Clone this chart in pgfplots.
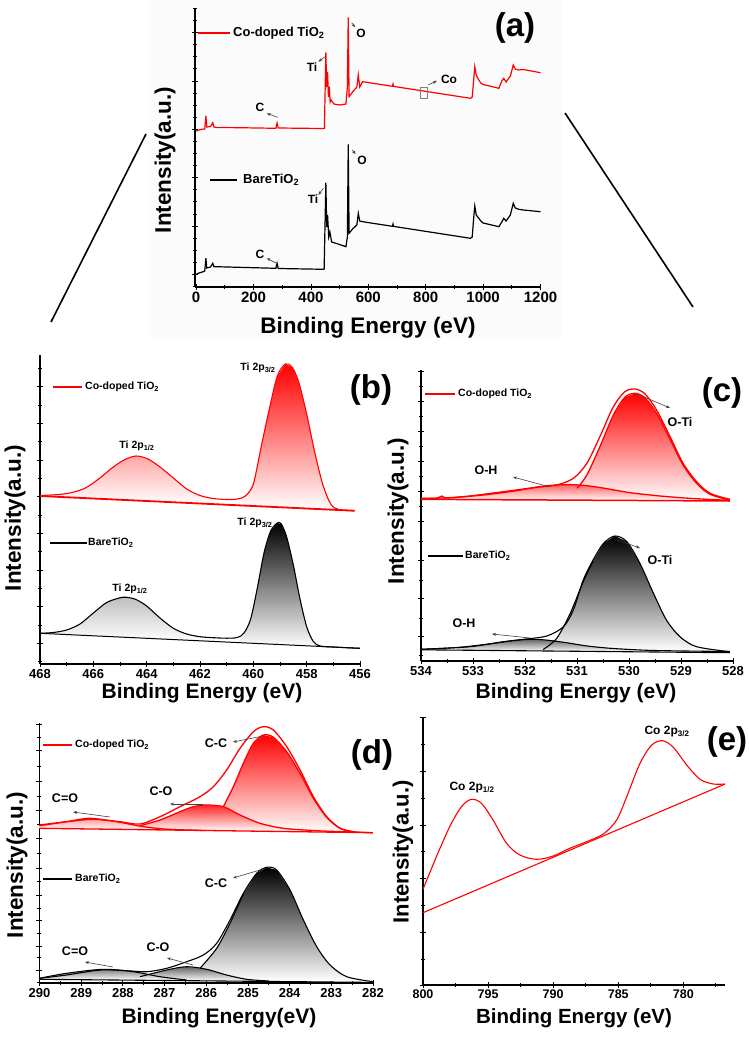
\documentclass[border=0pt]{standalone}
\usepackage{fontspec}
\setmainfont{Liberation Sans}
\usepackage{pgfplots}
\pgfplotsset{compat=1.18}
\usetikzlibrary{arrows.meta}
\newcommand{\fs}[1]{\fontsize{#1}{#1}\selectfont}
\definecolor{pure}{RGB}{255,0,0}
\pgfplotsset{
 xps/.style={
  scale only axis, anchor=north west,
  axis x line*=bottom, axis y line*=left,
  axis line style={line width=1.1pt},
  tick style={black, line width=0.8pt},
  tick align=center,
  major tick length=6pt, minor tick length=4pt,
  yticklabels={},
  /pgf/number format/assume math mode=true,
  /pgf/number format/1000 sep={},
  xticklabel style={font=\bfseries\fs{13}, inner sep=2pt},
 },
 fillp/.style={draw=none, bottom color=white, top color=#1, forget plot},
}
\tikzset{ann/.style={-{Stealth[length=4pt,width=3pt]}, line width=0.6pt, black!75},
 lab/.style={font=\bfseries\fs{#1}, inner sep=0pt}}
\begin{document}
\begin{tikzpicture}
\useasboundingbox (0,0) rectangle (749pt,-1038pt);
\begin{scope}[x=1pt,y=-1pt]
\fill[black!1.5] (148,0) rectangle (563,337);
\draw[line width=1.6pt] (51,322) -- (146,134);
\draw[line width=1.6pt] (565,113) -- (693,307);
\end{scope}

% ---------------- (a)
\begin{axis}[xps, at={(195pt,-8pt)}, width=345.5pt, height=279pt,
 xmin=-4, xmax=1200, ymin=0, ymax=279,
 xtick={0,200,...,1200}, minor x tick num=1,
 ytick={12.7,61,109.3,157.7,206,254.3},
 minor ytick={0.6,24.8,36.9,48.9,73.1,85.2,97.2,121.4,133.5,145.6,169.8,181.8,193.9,218.1,230.2,242.2,266.4,278.5},
 xticklabel style={font=\bfseries\fs{15}}]
\addplot[pure, line width=1.2pt] coordinates {(0,156) (15,157.5) (30,158) (34,171) (37,160) (50,160.5) (58,164.3) (62,160) (70,159.5) (150,159.3) (278,158.7) (282,164) (286,159) (440,158.5) (447,158.7) (452,234.7) (455,200) (458,215) (461,190) (464,200.3) (467,185) (470,187) (480,183) (500,182) (522,183) (527,200) (530,269.7) (533,190.3) (545,195) (560,200) (565,212) (570,200) (580,205.3) (684,200.7) (686,203) (688,200.6) (956,188.7) (962,190) (968,210) (971,220.3) (976,212) (985,207) (992,204) (1000,202.5) (1055,198.7) (1065,206) (1072,208.7) (1080,205) (1095,211) (1105,222) (1112,218) (1124,217) (1140,217.5) (1200,214.3)};
\addplot[black, line width=1.2pt] coordinates {(0,12.7) (10,14) (25,15.3) (30,16) (34,28.7) (37,19) (50,20) (58,23.7) (62,20.3) (70,20.3) (278,18.7) (282,23.7) (286,18.5) (446,17.7) (452,104.3) (455,60) (458,72) (462,50) (466,55) (472,45) (487,43.7) (522,40.3) (527,50) (530,142.7) (533,53.7) (545,58) (560,62) (565,73.7) (570,66) (580,65.3) (684,60.7) (686,63) (688,60.6) (956,48.7) (962,50) (968,72) (971,81) (976,72) (985,68.7) (992,66) (1000,64) (1055,60.3) (1065,65) (1072,68.7) (1080,66) (1095,72) (1105,83.7) (1112,79) (1124,77.7) (1140,77) (1200,75.3)};
\end{axis}

% ---------------- (b)
\begin{axis}[xps, at={(40pt,-355pt)}, width=320pt, height=309pt, x dir=reverse,
 xmin=456, xmax=468, ymin=0, ymax=309,
 xtick={456,458,...,468}, minor x tick num=1,
 ytick={20.7,57.3,94,130.7,167.3,204,240.6,277.3},
 minor ytick={2.4,39,75.7,112.3,149,185.6,222.3,259,295.6}]
\addplot[fillp=pure!35] coordinates {(467.5,167.4) (467.3,169.5) (466.8,171.5) (466.3,176) (465.8,185) (465.3,196) (464.85,204) (464.4,208) (463.95,205) (463.5,197) (463.0,186) (462.5,175) (462.0,168.5) (461.5,165.5) (461.5,159.9)} -- cycle;
\addplot[fillp=pure] coordinates {(460.4,158.5) (460.3,168) (460.0,180) (459.7,218) (459.4,255) (459.1,288) (458.8,300) (458.55,297) (458.3,282) (458.0,250) (457.7,212) (457.4,180) (457.1,160) (456.8,154.5)} -- cycle;
\addplot[fillp=black!25] coordinates {(467.5,30.1) (467.0,34) (466.5,40) (466.0,51) (465.5,61.5) (465.0,66.2) (464.75,66.7) (464.4,64.5) (464.0,58) (463.5,46) (463.0,35.7) (462.5,30) (462.0,27.3) (461.5,26.3) (461.5,22.6)} -- cycle;
\addplot[fillp=black] coordinates {(460.6,21.5) (460.35,31) (460.1,45) (459.85,76) (459.6,111) (459.35,133) (459.1,141) (458.95,140) (458.75,127) (458.5,99) (458.25,65) (458.0,37.3) (457.75,22.5) (457.5,18) (457.0,17.0)} -- cycle;
\addplot[pure, line width=1.8pt] coordinates {(468,168) (456.2,153.25)};
\addplot[pure, line width=1.1pt, smooth] coordinates {(468,168.5) (467.3,169.5) (466.8,171.5) (466.3,176) (465.8,185) (465.3,196) (464.85,204) (464.4,208) (463.95,205) (463.5,197) (463.0,186) (462.5,175) (462.0,168.5) (461.5,165.5) (461.0,164.5) (460.6,165) (460.3,168) (460.0,180) (459.7,218) (459.4,255) (459.1,288) (458.8,300) (458.55,297) (458.3,282) (458.0,250) (457.7,212) (457.4,180) (457.1,160) (456.8,154.5) (456.2,153.3)};
\addplot[black, line width=1pt] coordinates {(468,30.7) (456,15.7)};
\addplot[black, line width=1.1pt, smooth] coordinates {(468,30.7) (467.5,31.5) (467.0,34) (466.5,40) (466.0,51) (465.5,61.5) (465.0,66.2) (464.75,66.7) (464.4,64.5) (464.0,58) (463.5,46) (463.0,35.7) (462.5,30) (462.0,27.3) (461.5,26.3) (461.0,25.8) (460.6,26.5) (460.35,31) (460.1,45) (459.85,76) (459.6,111) (459.35,133) (459.1,141) (458.95,140) (458.75,127) (458.5,99) (458.25,65) (458.0,37.3) (457.75,22.5) (457.5,18) (457.0,17.0) (456.5,16.3) (456,15.7)};
\end{axis}

% ---------------- (c)
\begin{axis}[xps, at={(421pt,-370pt)}, width=312pt, height=291pt, x dir=reverse,
 xmin=528, xmax=534, ymin=0, ymax=291,
 xtick={528,...,534}, minor x tick num=1,
 ytick={24.3,62.7,101,139.3,169.3,199.3,229.3,259.3,289.3},
 minor ytick={6,42.7,81,119.3,154.3,184.3,214.3,244.3,274.3}]
\addplot[fillp=pure] coordinates {(531.0,172.7) (530.81,186) (530.56,214.3) (530.30,246) (530.08,263.7) (529.88,267.7) (529.69,263) (529.47,247.7) (529.21,221.7) (528.96,196) (528.70,177.7) (528.44,166.7) (528.06,161) (528.06,160) (531.0,160.8)} -- cycle;
\addplot[fillp=pure!60] coordinates {(533.4,163.5) (532.8,166) (532.2,170) (531.7,174.5) (531.3,176.3) (530.9,175.8) (530.5,173) (530.0,168.5) (529.5,165.5) (529.0,163.3) (528.5,161.7) (528.5,160.1) (533.4,161.4)} -- cycle;
\addplot[fillp=black] coordinates {(531.65,11.5) (531.39,22.7) (531.13,47.7) (530.88,79.3) (530.69,100) (530.49,117.7) (530.27,125) (530.04,119.3) (529.79,97.7) (529.53,67.7) (529.28,41) (529.02,24.3) (528.70,14.3) (528.3,9.5) (531.65,10)} -- cycle;
\addplot[fillp=black!60] coordinates {(533.3,13.5) (532.7,17) (532.2,20.5) (531.9,21.7) (531.6,21) (531.2,18.3) (530.8,15) (530.3,12.5) (529.5,10.5) (529.5,9.4) (533.3,10.8)} -- cycle;
\addplot[pure, line width=1.5pt] coordinates {(534,161.7) (528.06,160)};
\addplot[pure, line width=1.3pt, smooth] coordinates {(534.0,162.7) (533.7,162.8) (533.6,165) (533.5,163) (533.06,165) (532.42,169.3) (531.78,173.7) (531.39,176) (531.07,182.7) (530.81,197.7) (530.56,224.3) (530.30,254.3) (530.08,269.3) (529.88,272) (529.69,267) (529.47,251) (529.21,224.3) (528.96,197.7) (528.70,179.3) (528.44,167.7) (528.06,161.7)};
\addplot[pure, line width=1.3pt, smooth] coordinates {(531.0,172.7) (530.81,186) (530.56,214.3) (530.30,246) (530.08,263.7) (529.88,267.7) (529.69,263) (529.47,247.7) (529.21,221.7) (528.96,196) (528.70,177.7) (528.44,166.7) (528.06,161)};
\addplot[pure, line width=1.3pt, smooth] coordinates {(534.0,162.3) (533.4,163.5) (532.8,166) (532.2,170) (531.7,174.5) (531.3,176.3) (530.9,175.8) (530.5,173) (530.0,168.5) (529.5,165.5) (529.0,163.3) (528.5,161.7) (528.06,160.7)};
\addplot[black, line width=1.1pt] coordinates {(534,11.2) (528.06,8.3)};
\addplot[black, line width=1.1pt, smooth] coordinates {(534.0,11.7) (533.06,14.3) (532.42,19.3) (532.03,21.7) (531.58,25) (531.26,34.3) (531.07,51) (530.88,81) (530.69,101) (530.49,117.7) (530.27,125) (530.04,119.3) (529.79,97.7) (529.53,67.7) (529.28,41) (529.02,24.3) (528.70,14.3) (528.06,9.3)};
\addplot[black, line width=1.1pt, smooth] coordinates {(531.65,11.5) (531.39,22.7) (531.13,47.7) (530.88,79.3) (530.69,100)};
\addplot[black, line width=1.1pt, smooth] coordinates {(534.0,11.7) (533.3,13.5) (532.7,17) (532.2,20.5) (531.9,21.7) (531.6,21) (531.2,18.3) (530.8,15) (530.3,12.5) (529.5,10.5) (528.06,9.5)};
\end{axis}

% ---------------- (d)
\begin{axis}[xps, at={(39.5pt,-723pt)}, width=333.5pt, height=260pt, x dir=reverse,
 xmin=282, xmax=290, ymin=0, ymax=260,
 xtick={282,...,290}, minor x tick num=1,
 ytick={13,37,63,88,114.7,144.7,173,201.3,232.3,259},
 minor ytick={0.3,25.3,49.7,74.7,101.3,129.7,159,186.3,216.3,245.7}]
\addplot[fillp=pure] coordinates {(285.59,176.3) (285.35,196.3) (285.11,219.7) (284.87,239.7) (284.63,248) (284.39,245.7) (284.07,231.3) (283.75,209.7) (283.43,184.7) (283.11,165.7) (282.79,154.7) (282.47,151.3) (282.47,150.6) (285.59,152.4)} -- cycle;
\addplot[fillp=pure!85] coordinates {(287.59,157.3) (287.11,163) (286.63,171.3) (286.31,176.3) (285.99,178) (285.59,176.3) (285.19,168) (284.71,159.7) (284.15,154.7) (283.35,152.3) (283.35,151.4) (287.59,153.6)} -- cycle;
\addplot[fillp=pure!40] coordinates {(290.0,157.3) (289.35,161.3) (288.8,164.7) (288.15,161.3) (287.5,156.3) (286.9,153.7) (286.9,152.9) (290,154.7)} -- cycle;
\addplot[fillp=black] coordinates {(286.15,14.7) (285.75,34.7) (285.43,59.7) (285.11,89) (284.79,109.7) (284.55,115.7) (284.31,113) (283.99,93) (283.67,63) (283.35,36.3) (283.03,18) (282.63,6.3) (282.2,2) (286.15,1.8)} -- cycle;
\addplot[fillp=black!60] coordinates {(287.59,6.3) (286.95,13) (286.47,16.3) (285.99,13.7) (285.51,8) (285.03,3.7) (284.5,2) (287.59,2.6)} -- cycle;
\addplot[fillp=black!50] coordinates {(290.0,4.7) (289.35,9.7) (288.47,13.7) (287.75,11.3) (287.11,6.3) (286.47,3) (290,3.7)} -- cycle;
\addplot[pure, line width=1.3pt] coordinates {(290,154.7) (282,150.3)};
\addplot[pure, line width=1.3pt, smooth] coordinates {(290.0,158) (289.35,161.3) (288.71,163.7) (288.07,161.3) (287.59,159) (287.11,166.3) (286.63,176.3) (286.15,186.3) (285.83,196.3) (285.51,213) (285.19,234.7) (284.87,251.3) (284.63,256.3) (284.39,253) (284.07,236.3) (283.75,213) (283.43,186.3) (283.11,166.3) (282.79,154.7) (282.47,151.3) (282.0,150.3)};
\addplot[pure, line width=1.3pt, smooth] coordinates {(285.59,176.3) (285.35,196.3) (285.11,219.7) (284.87,239.7) (284.63,248) (284.39,245.7) (284.07,231.3) (283.75,209.7) (283.43,184.7) (283.11,165.7) (282.79,154.7) (282.47,151.3)};
\addplot[pure, line width=1.3pt, smooth] coordinates {(287.59,157.3) (287.11,163) (286.63,171.3) (286.31,176.3) (285.99,178) (285.59,176.3) (285.19,168) (284.71,159.7) (284.15,154.7) (283.35,152.3) (282.5,151)};
\addplot[pure, line width=1.3pt, smooth] coordinates {(290.0,157.3) (289.35,161.3) (288.8,164.7) (288.15,161.3) (287.5,156.3) (286.9,153.7) (286.0,152.5)};
\addplot[black, line width=1.1pt] coordinates {(290,3.7) (282,0.6)};
\addplot[black, line width=1.1pt, smooth] coordinates {(290.0,4.7) (289.35,8) (288.55,13) (287.91,12.3) (287.43,11.3) (286.95,14.7) (286.47,21.3) (286.07,28) (285.75,39.7) (285.43,63) (285.11,89.7) (284.79,109.7) (284.55,115.7) (284.31,113) (283.99,93) (283.67,63) (283.35,36.3) (283.03,18) (282.63,6.3) (282.0,1.3)};
\addplot[black, line width=1.1pt, smooth] coordinates {(286.15,14.7) (285.75,34.7) (285.43,59.7) (285.11,89)};
\addplot[black, line width=1.1pt, smooth] coordinates {(287.59,6.3) (286.95,13) (286.47,16.3) (285.99,13.7) (285.51,8) (285.03,3.7) (284.5,2)};
\addplot[black, line width=1.1pt, smooth] coordinates {(290.0,4.7) (289.35,9.7) (288.47,13.7) (287.75,11.3) (287.11,6.3) (286.47,3)};
\end{axis}

% ---------------- (e)
\begin{axis}[xps, at={(423pt,-717pt)}, width=302pt, height=268pt, x dir=reverse,
 xmin=776.8, xmax=800, ymin=0, ymax=268,
 xtick={780,785,...,800}, minor xtick={777.5,782.5,787.5,792.5,797.5},
 ytick={0,52.3,106.7,160,213.3,267.7},
 minor ytick={26,79.3,133.3,186.7,240.7},
 xticklabel style={font=\bfseries\fs{12.5}}]
\addplot[pure, line width=1.1pt] coordinates {(800,72.3) (776.79,201)};
\addplot[pure, line width=1.1pt, smooth] coordinates {(800.0,95.7) (798.97,128.3) (797.95,158.3) (797.05,178.3) (796.28,185.7) (795.51,181.7) (794.62,165) (793.58,141.7) (792.56,130) (791.28,125.7) (790.0,129) (788.72,136.7) (787.43,143.3) (786.15,151) (785.12,165) (784.35,188.3) (783.33,221.7) (782.43,240) (781.59,244.3) (780.77,237.7) (779.74,220) (778.72,205.7) (777.69,201) (776.79,201)};
\end{axis}

% ---------------- annotations
\begin{scope}[x=1pt,y=-1pt]
% axis labels
\node[lab=22.5, rotate=90] at (165,160) {Intensity(a.u.)};
\node[lab=22.5] at (368,328) {Binding Energy (eV)};
\node[lab=22.5, rotate=90] at (15,518) {Intensity(a.u.)};
\node[lab=21] at (202,693) {Binding Energy (eV)};
\node[lab=22.5, rotate=90] at (398,511) {Intensity(a.u.)};
\node[lab=21] at (576,693) {Binding Energy (eV)};
\node[lab=22.5, rotate=90] at (17,865) {Intensity(a.u.)};
\node[lab=21] at (219,1018) {Binding Energy(eV)};
\node[lab=22, rotate=90] at (403,852) {Intensity(a.u.)};
\node[lab=20.5] at (574,1018) {Binding Energy (eV)};
% panel letters
\node[lab=33] at (515,28) {(a)};
\node[lab=33] at (371,390) {(b)};
\node[lab=33] at (722,393) {(c)};
\node[lab=33] at (372,755) {(d)};
\node[lab=33] at (727,742) {(e)};
% (a)
\draw[pure, line width=1.2pt] (198,33) -- (230,33);
\node[lab=13, anchor=west] at (233,33) {Co-doped TiO\textsubscript{2}};
\draw[black, line width=1.2pt] (210,180) -- (237,180);
\node[lab=13, anchor=west] at (243,180) {BareTiO\textsubscript{2}};
\node[lab=12] at (260,107) {C};
\draw[ann] (277.7,117.3) -- (266.7,113.3);
\node[lab=12] at (312,67) {Ti};
\draw[ann] (326,56) -- (318.3,61.7);
\node[lab=12] at (361,33) {O};
\draw[ann] (351.7,22.7) -- (355,27.3);
\node[lab=12] at (449,79) {Co};
\draw[ann] (428.3,85) -- (437,80.7);
\draw[black!50, line width=0.5pt] (420.7,87.3) rectangle (427.3,98.7);
\node[lab=12] at (260,254) {C};
\draw[ann] (276.7,263.3) -- (266.7,258.3);
\node[lab=12] at (313,199) {Ti};
\draw[ann] (323.3,188.3) -- (318.3,195);
\node[lab=12] at (362,160.7) {O};
\draw[ann] (352,150) -- (355.7,154);
% (b)
\draw[pure, line width=1.2pt] (53,387) -- (82,387);
\node[lab=10.5, anchor=west] at (85,387) {Co-doped TiO\textsubscript{2}};
\draw[black, line width=1.2pt] (50,543) -- (87,543);
\node[lab=10.5, anchor=west] at (88,543) {BareTiO\textsubscript{2}};
\node[lab=10.5] at (258,368) {Ti 2p\textsubscript{3/2}};
\node[lab=10.5] at (137,446) {Ti 2p\textsubscript{1/2}};
\node[lab=10.5] at (255,523) {Ti 2p\textsubscript{3/2}};
\node[lab=10.5] at (130,589) {Ti 2p\textsubscript{1/2}};
% (c)
\draw[pure, line width=1.2pt] (425,394) -- (455,394);
\node[lab=10.5, anchor=west] at (458,394) {Co-doped TiO\textsubscript{2}};
\draw[black, line width=1.2pt] (428,556) -- (463,556);
\node[lab=10.5, anchor=west] at (465,556) {BareTiO\textsubscript{2}};
\node[lab=12.5] at (486,470) {O-H};
\draw[ann] (550,487) -- (513,477);
\node[lab=12.5] at (680,422) {O-Ti};
\draw[ann] (637,394) -- (670,408);
\node[lab=12.5] at (660,560) {O-Ti};
\draw[ann] (617,540) -- (640,548);
\node[lab=12.5] at (464,623) {O-H};
\draw[ann] (530,638) -- (492,634);
% (d)
\draw[pure, line width=1.2pt] (43,745) -- (72,745);
\node[lab=10.5, anchor=west] at (75,745) {Co-doped TiO\textsubscript{2}};
\draw[black, line width=1.2pt] (43,879) -- (72,879);
\node[lab=10.5, anchor=west] at (75,879) {BareTiO\textsubscript{2}};
\node[lab=12.5] at (216,743) {C-C};
\draw[ann] (263,736) -- (233,742);
\node[lab=12.5] at (161,791) {C-O};
\draw[ann] (203,804) -- (170,804);
\node[lab=12.5] at (65,798) {C=O};
\draw[ann] (110,817) -- (73,812);
\node[lab=12.5] at (216,883) {C-C};
\draw[ann] (260,870) -- (233,878);
\node[lab=12.5] at (158,947) {C-O};
\draw[ann] (193,965) -- (167,958);
\node[lab=12.5] at (75,951) {C=O};
\draw[ann] (113,967) -- (85,962);
% (e)
\node[lab=12] at (472,788) {Co 2p\textsubscript{1/2}};
\node[lab=12] at (667,732) {Co 2p\textsubscript{3/2}};
\end{scope}
\end{tikzpicture}
\end{document}
